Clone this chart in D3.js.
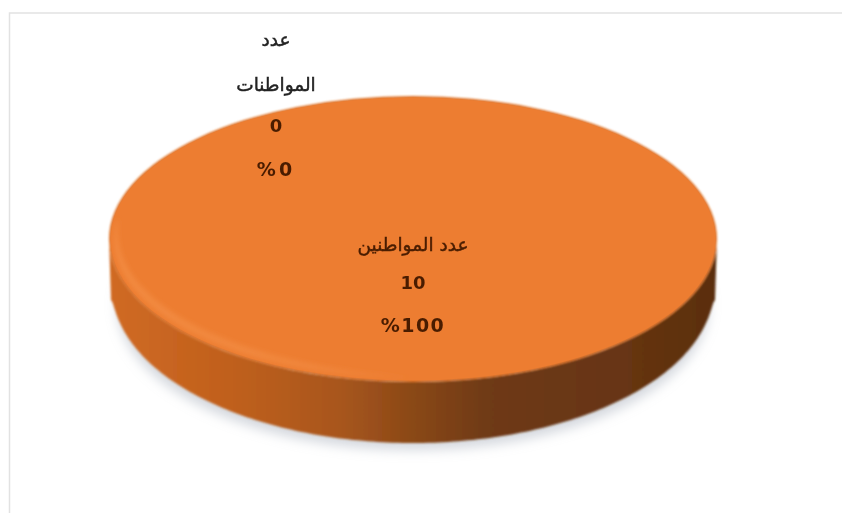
<!DOCTYPE html>
<html><head><meta charset="utf-8">
<script src="https://cdn.jsdelivr.net/npm/d3@7"></script>
<style>html,body{margin:0;padding:0;background:#fff}svg{display:block}text{font-family:"DejaVu Sans",sans-serif;text-anchor:middle}</style>
</head><body><svg id="c" width="842" height="513"></svg>
<script>
const categories=["عدد المواطنين","عدد المواطنات"];
const values=[10,0];
const percentLabels=["%100","%0"];
const W=842,H=513,cx=413,cy=239,rx=304,ry=143,depth=61;
const svg=d3.select("#c");
const defs=svg.append("defs");
const sideGrad=defs.append("linearGradient").attr("id","side").attr("gradientUnits","userSpaceOnUse").attr("x1",cx-rx).attr("x2",cx+rx).attr("y1",0).attr("y2",0);
[[0,"#d06a22"],[0.2,"#c0601e"],[0.38,"#a8561c"],[0.5,"#8a4818"],[0.62,"#6f3a14"],[0.85,"#673512"],[1,"#5a2e0f"]].forEach(([o,c])=>sideGrad.append("stop").attr("offset",o).attr("stop-color",c));
const bevel=defs.append("linearGradient").attr("id","bevel").attr("gradientUnits","userSpaceOnUse").attr("x1",cx-rx).attr("x2",cx+30).attr("y1",0).attr("y2",0);
[[0,"#f6954d",0.9],[0.6,"#f6954d",0.7],[1,"#f6954d",0]].forEach(([o,c,a])=>bevel.append("stop").attr("offset",o).attr("stop-color",c).attr("stop-opacity",a));
const mkBlur=(id,s)=>defs.append("filter").attr("id",id).attr("filterUnits","userSpaceOnUse").attr("x",0).attr("y",0).attr("width",W).attr("height",H).append("feGaussianBlur").attr("stdDeviation",s);
mkBlur("blur",6);mkBlur("edge",1.3);mkBlur("band",2.6);mkBlur("soft",0.4);

// frame
svg.append("path").attr("d",`M9.5,${H} V13 H${W}`).attr("fill","none").attr("stroke","#e2e2e2").attr("stroke-width",1.5);

const pie=d3.pie().sort(null).value(d=>d).startAngle(0).endAngle(2*Math.PI);
const arcs=pie(values);
const unitArc=d3.arc().innerRadius(0).outerRadius(1);
const x=d3.scaleLinear().domain([-1,1]).range([cx-rx,cx+rx]);
const y=d3.scaleLinear().domain([-1,1]).range([cy-ry,cy+ry]);
const faceTransform=(sx,sy,dy=0)=>`translate(${cx},${cy+dy}) scale(${sx},${sy})`;
const face=(parent,sx,sy,dy,fill,op=1)=>parent.append("g").attr("transform",faceTransform(sx,sy,dy))
  .selectAll("path").data(arcs).join("path").attr("d",unitArc).attr("fill",fill).attr("opacity",op);

// shadow
face(svg.append("g").attr("filter","url(#blur)"),296,ry+2,depth+5,"#a9b2bd",.5);

// wall from the slice angles, tapering slightly toward its lower edge
const big=arcs[0];
const angles=d3.range(Math.PI/2,3*Math.PI/2+.001,Math.PI/180).filter(t=>t>=big.startAngle&&t<=big.endAngle);
const line=d3.line().x(d=>d[0]).y(d=>d[1]);
const lowerRx=t=>rx-2-14*Math.pow(Math.abs(Math.cos(t)),.55);
const wallPts=[...angles.map(t=>[x(Math.sin(t)),y(-Math.cos(t))]),
  ...angles.slice().reverse().map(t=>[cx+lowerRx(t)*Math.sin(t),y(-Math.cos(t))+depth])];
const cap=svg.append("g").attr("filter","url(#edge)");
cap.append("path").attr("d",line(wallPts)+"Z").attr("fill","url(#side)");
// top face with soft edge
face(cap,rx,ry,0,"#de7329");
face(svg,rx-1.5,ry-1.5,0,"#ed7d31");
// lighter bevel along the near-left rim
const t0=Math.PI,t1=3*Math.PI/2+.15;
const bandAngles=d3.range(t0,t1,.02);
const bandW=t=>Math.pow(Math.sin(Math.PI*(t-t0)/(t1-t0)),.6);
svg.append("g").attr("filter","url(#band)").append("path")
  .attr("d",line([...bandAngles.map(t=>[cx+(rx-5)*Math.sin(t),cy-(ry-4)*Math.cos(t)]),
    ...bandAngles.slice().reverse().map(t=>[cx+(rx-5-9*bandW(t))*Math.sin(t),cy-(ry-4-8*bandW(t))*Math.cos(t)])])+"Z")
  .attr("fill","url(#bevel)").attr("opacity",.6);

// labels
const labelPos=[{x:413,y:[251,289,332]},{x:276,y:[46,91,132,176]}];
const g=svg.append("g").attr("filter","url(#soft)");
const dark="#4a1d04";
const tx=(s,px,py,fs,col,w,st,ls)=>g.append("text").attr("x",px).attr("y",py).attr("font-size",fs).attr("font-weight",w||"normal")
  .attr("fill",col).attr("stroke",col).attr("stroke-width",st||0).attr("letter-spacing",ls||0).text(s);
tx(categories[0],labelPos[0].x,labelPos[0].y[0],18.5,dark,"normal",.45);
tx(values[0],labelPos[0].x,labelPos[0].y[1],18,dark,"bold");
tx(percentLabels[0],labelPos[0].x,labelPos[0].y[2],19,dark,"bold",0,1.5);
const [w1,w2]=categories[1].split(" ");
tx(w1,labelPos[1].x,labelPos[1].y[0],18.5,"#222","normal",.45);
tx(w2,labelPos[1].x,labelPos[1].y[1],18.5,"#222","normal",.45);
tx(values[1],labelPos[1].x,labelPos[1].y[2],18,dark,"bold");
tx(percentLabels[1],labelPos[1].x,labelPos[1].y[3],19,dark,"bold",0,3);
</script></body></html>
